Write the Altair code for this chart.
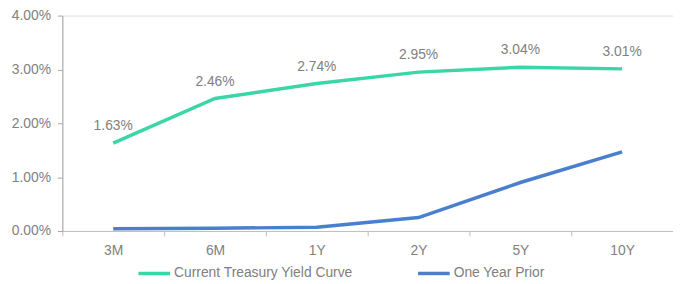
import altair as alt
import pandas as pd

maturities = ["3M", "6M", "1Y", "2Y", "5Y", "10Y"]
current = [1.63, 2.46, 2.74, 2.95, 3.04, 3.01]
prior = [0.04, 0.05, 0.07, 0.25, 0.90, 1.47]
series_names = ["Current Treasury Yield Curve", "One Year Prior"]
colors = ["#3AD6A7", "#4A7FD0"]
y_ticks = [0, 1, 2, 3, 4]

rows = []
for m, c, p in zip(maturities, current, prior):
    rows.append({"mat": m, "series": series_names[0], "value": c / 100})
    rows.append({"mat": m, "series": series_names[1], "value": p / 100})
df = pd.DataFrame(rows)

FONT = "Liberation Sans"
GRAY = "#808080"

x = alt.X("mat:N", sort=maturities, bandPosition=0.5,
          scale=alt.Scale(type="band", paddingInner=0, paddingOuter=0),
          axis=alt.Axis(title=None, labelAngle=0, tickBand="extent",
                        domainColor="#BFBFBF", tickColor="#BFBFBF", tickSize=5,
                        labelColor=GRAY, labelFont=FONT, labelFontSize=14,
                        labelPadding=8))
y = alt.Y("value:Q",
          scale=alt.Scale(domain=[0, 0.04], nice=False),
          axis=alt.Axis(title=None, values=[t / 100 for t in y_ticks], format=".2%",
                        grid=False, domainColor="#A6A6A6", tickColor="#A6A6A6",
                        tickSize=5, labelColor=GRAY, labelFont=FONT,
                        labelFontSize=14, labelPadding=7))
color = alt.Color("series:N", sort=series_names,
                  scale=alt.Scale(domain=series_names, range=colors),
                  legend=alt.Legend(title=None, orient="none", direction="horizontal",
                                    legendX=75, legendY=243, symbolType="stroke",
                                    symbolSize=1024, symbolStrokeWidth=3.5,
                                    labelFont=FONT, labelFontSize=14, labelColor=GRAY,
                                    labelLimit=400, padding=0,
                                    columnPadding=58, labelOffset=2))

lines = alt.Chart(df).mark_line(strokeWidth=3.5).encode(
    x=x, y=y, color=color)

labels = alt.Chart(df[df["series"] == series_names[0]]).mark_text(
    dy=-17, font=FONT, fontSize=14, color=GRAY).encode(
    x=x, y=y, text=alt.Text("value:Q", format=".2%"))

chart = alt.layer(lines, labels).properties(
    width=618, height=218,
    autosize=alt.AutoSizeParams(type="none"),
    padding={"left": 55, "top": 6, "right": 0, "bottom": 52},
).configure_view(stroke=None).configure(background="white")

chart.save("out.html", embed_options={"renderer": "svg", "actions": False})
